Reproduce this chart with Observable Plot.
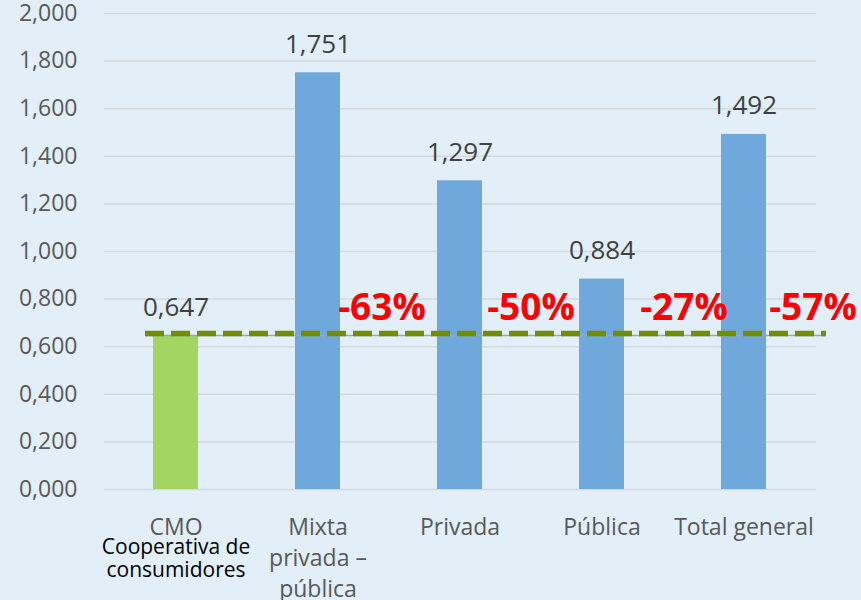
<!DOCTYPE html>
<html>
<head>
<meta charset="utf-8">
<script src="https://cdn.jsdelivr.net/npm/d3@7"></script>
<script src="https://cdn.jsdelivr.net/npm/@observablehq/plot@0.6"></script>
<style>
  html, body { margin: 0; padding: 0; background: #e2eef8; }
  #chart svg { display: block; }
</style>
</head>
<body>
<div id="chart"></div>
<script>
const categorias = ["CMO", "Mixta privada – pública", "Privada", "Pública", "Total general"];
const etiquetas = ["CMO", "Mixta\nprivada –\npública", "Privada", "Pública", "Total general"];
const valores = [0.647, 1.751, 1.297, 0.884, 1.492];
const colores = ["#a2d562", "#6fa9db", "#6fa9db", "#6fa9db", "#6fa9db"];
const diferencias = ["", "-63%", "-50%", "-27%", "-57%"];
const referencia = 0.647;
const nota = "Cooperativa de\nconsumidores";
const yTicks = [0, 0.2, 0.4, 0.6, 0.8, 1.0, 1.2, 1.4, 1.6, 1.8, 2.0];

const fmt = v => d3.format(".3f")(v).replace(".", ",");
const data = categorias.map((c, i) => ({c, v: valores[i], col: colores[i], lab: etiquetas[i], diff: diferencias[i]}));

// horizontal nudges for the red difference labels (layout only)
const diffDx = [0, 64, 71, 82, 69];
const diffMarks = data.map((d, i) => d.diff
  ? Plot.text([d], {x: "c", y: () => referencia, text: "diff", lineAnchor: "bottom", dx: diffDx[i], dy: -16, fontSize: 37, fontWeight: "bold", fill: "#ff0000"})
  : null).filter(Boolean);

const chart = Plot.plot({
  width: 861,
  height: 600,
  marginLeft: 104,
  marginRight: 45,
  marginTop: 13,
  marginBottom: 111,
  style: {fontFamily: "Open Sans", background: "#e2eef8"},
  x: {domain: categorias, paddingInner: 0.68, paddingOuter: 0.34, axis: null},
  y: {domain: [0, 2], axis: null},
  marks: [
    Plot.gridY(yTicks, {stroke: "#d6d9dc", strokeOpacity: 1, strokeWidth: 1.5}),
    Plot.axisY(yTicks, {tickSize: 0, tickPadding: 27, tickFormat: fmt, fontSize: 23, fill: "#595959", label: null}),
    Plot.barY(data, {x: "c", y: "v", fill: "col"}),
    Plot.ruleY([referencia], {stroke: "#9aa6b2", strokeWidth: 1.5, insetLeft: 41, insetRight: -10}),
    Plot.ruleY([referencia], {stroke: "#728e00", strokeWidth: 5.5, strokeDasharray: "19,7", dy: -2, insetLeft: 41, insetRight: -10}),
    Plot.text(data, {x: "c", y: "v", text: d => fmt(d.v), lineAnchor: "bottom", dy: -20, fontSize: 26, fill: "#404040"}),
    ...diffMarks,
    Plot.text(data, {x: "c", y: () => 0, text: "lab", lineAnchor: "top", dy: 23, fontSize: 23, lineHeight: 1.35, fill: "#595959"}),
    Plot.text([nota], {x: () => categorias[0], y: () => 0, text: d => d, lineAnchor: "top", dy: 48, fontSize: 21, lineHeight: 1.1, fill: "#000000"})
  ]
});
document.getElementById("chart").appendChild(chart);
</script>
</body>
</html>
